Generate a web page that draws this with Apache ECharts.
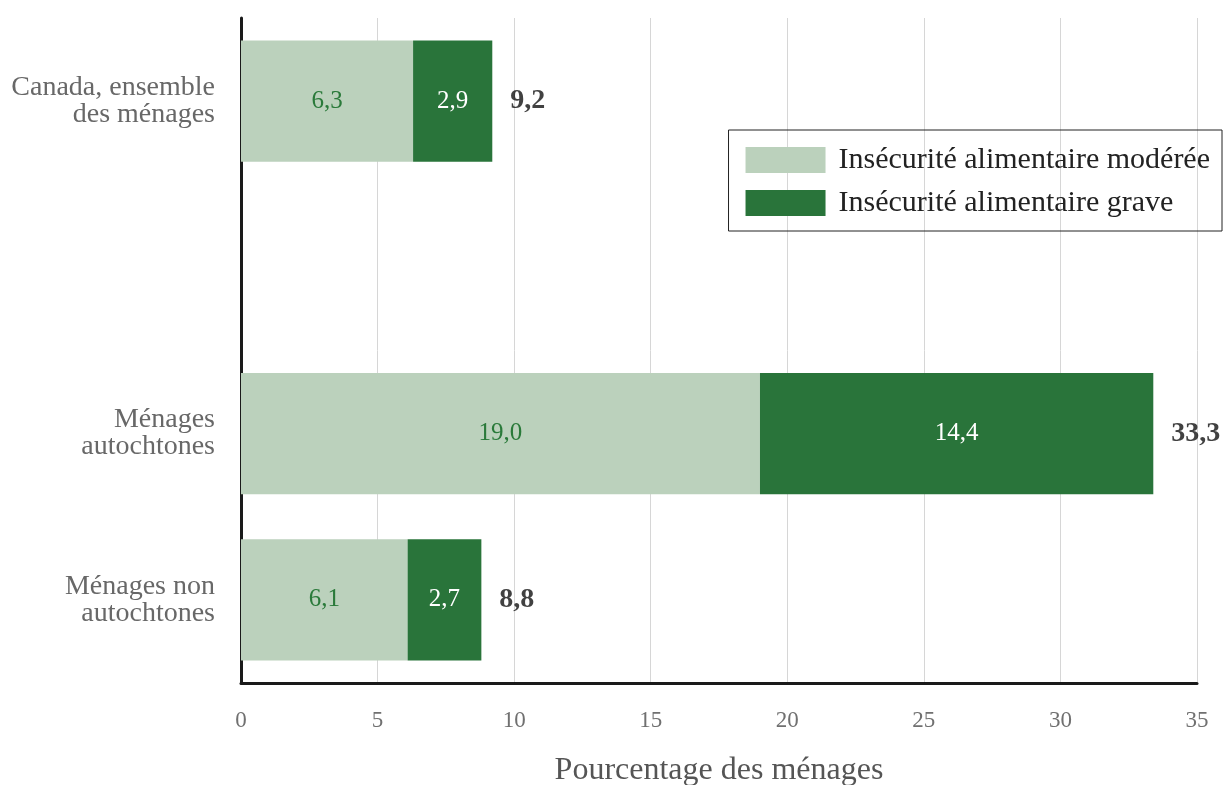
<!DOCTYPE html>
<html><head><meta charset="utf-8">
<script src="https://cdn.jsdelivr.net/npm/echarts@6/dist/echarts.min.js"></script>
<style>html,body{margin:0;padding:0;background:#fff}#c{width:1224px;height:785px}</style>
</head><body><div id="c"></div>
<script>
const categories = ['Canada, ensemble\ndes ménages', '', 'Ménages\nautochtones', 'Ménages non\nautochtones'];
const moderee = [6.3, '-', 19.0, 6.1];
const grave = [2.9, '-', 14.4, 2.7];
const totals = [9.2, '-', 33.3, 8.8];
const xTicks = [0, 5, 10, 15, 20, 25, 30, 35];
const FONT = 'Liberation Serif';
const fmt = v => String(v.toFixed(1)).replace('.', ',');

const chart = echarts.init(document.getElementById('c'));
chart.setOption({
  animation: false,
  textStyle: { fontFamily: FONT },
  grid: { left: 241, right: 27, top: 18, bottom: 102, containLabel: false, outerBoundsMode: 'none' },
  legend: {
    orient: 'vertical', right: 2, top: 130,
    icon: 'rect',
    itemWidth: 80, itemHeight: 26, itemGap: 13,
    padding: [15, 12, 13, 17],
    borderColor: '#222', borderWidth: 1,
    textStyle: { fontFamily: FONT, fontSize: 30, color: '#222', padding: [0, 0, 0, 8] },
    data: ['Insécurité alimentaire modérée', 'Insécurité alimentaire grave']
  },
  xAxis: {
    type: 'value', min: xTicks[0], max: xTicks[xTicks.length - 1], interval: 5,
    axisLine: { show: true, lineStyle: { color: '#1a1a1a', width: 3 } },
    axisTick: { show: false },
    splitLine: { show: true, lineStyle: { color: '#d6d6d6', width: 1 } },
    axisLabel: { fontSize: 23, color: '#707070', margin: 26, fontFamily: FONT },
    name: 'Pourcentage des ménages', nameLocation: 'middle', nameGap: 72,
    nameTextStyle: { fontSize: 32, color: '#555', fontFamily: FONT }
  },
  yAxis: {
    type: 'category', inverse: true, data: categories,
    axisLine: { show: true, lineStyle: { color: '#1a1a1a', width: 3 } },
    axisTick: { show: false },
    axisLabel: { fontSize: 28, color: '#686868', margin: 26, lineHeight: 27, align: 'right', fontFamily: FONT }
  },
  series: [
    {
      name: 'Insécurité alimentaire modérée', type: 'bar', stack: 't', data: moderee,
      barWidth: '73%', itemStyle: { color: '#bbd1bc' },
      label: { show: true, position: 'inside', fontSize: 25, color: '#2a7a3a', fontFamily: FONT,
        formatter: p => fmt(p.value) }
    },
    {
      name: 'Insécurité alimentaire grave', type: 'bar', stack: 't', data: grave,
      barWidth: '73%', itemStyle: { color: '#29743a' },
      label: { show: true, position: 'inside', fontSize: 25, color: '#fff', fontFamily: FONT,
        formatter: p => fmt(p.value) }
    },
    {
      name: 'total', type: 'scatter', symbolSize: 0, silent: true,
      data: totals.map((t, i) => t === '-' ? null : [moderee[i] + grave[i], i, t]).filter(d => d),
      label: { show: true, position: 'right', distance: 18, fontSize: 28, fontWeight: 'bold', color: '#111',
        fontFamily: FONT, formatter: p => fmt(p.value[2]) }
    }
  ]
});
</script></body></html>
